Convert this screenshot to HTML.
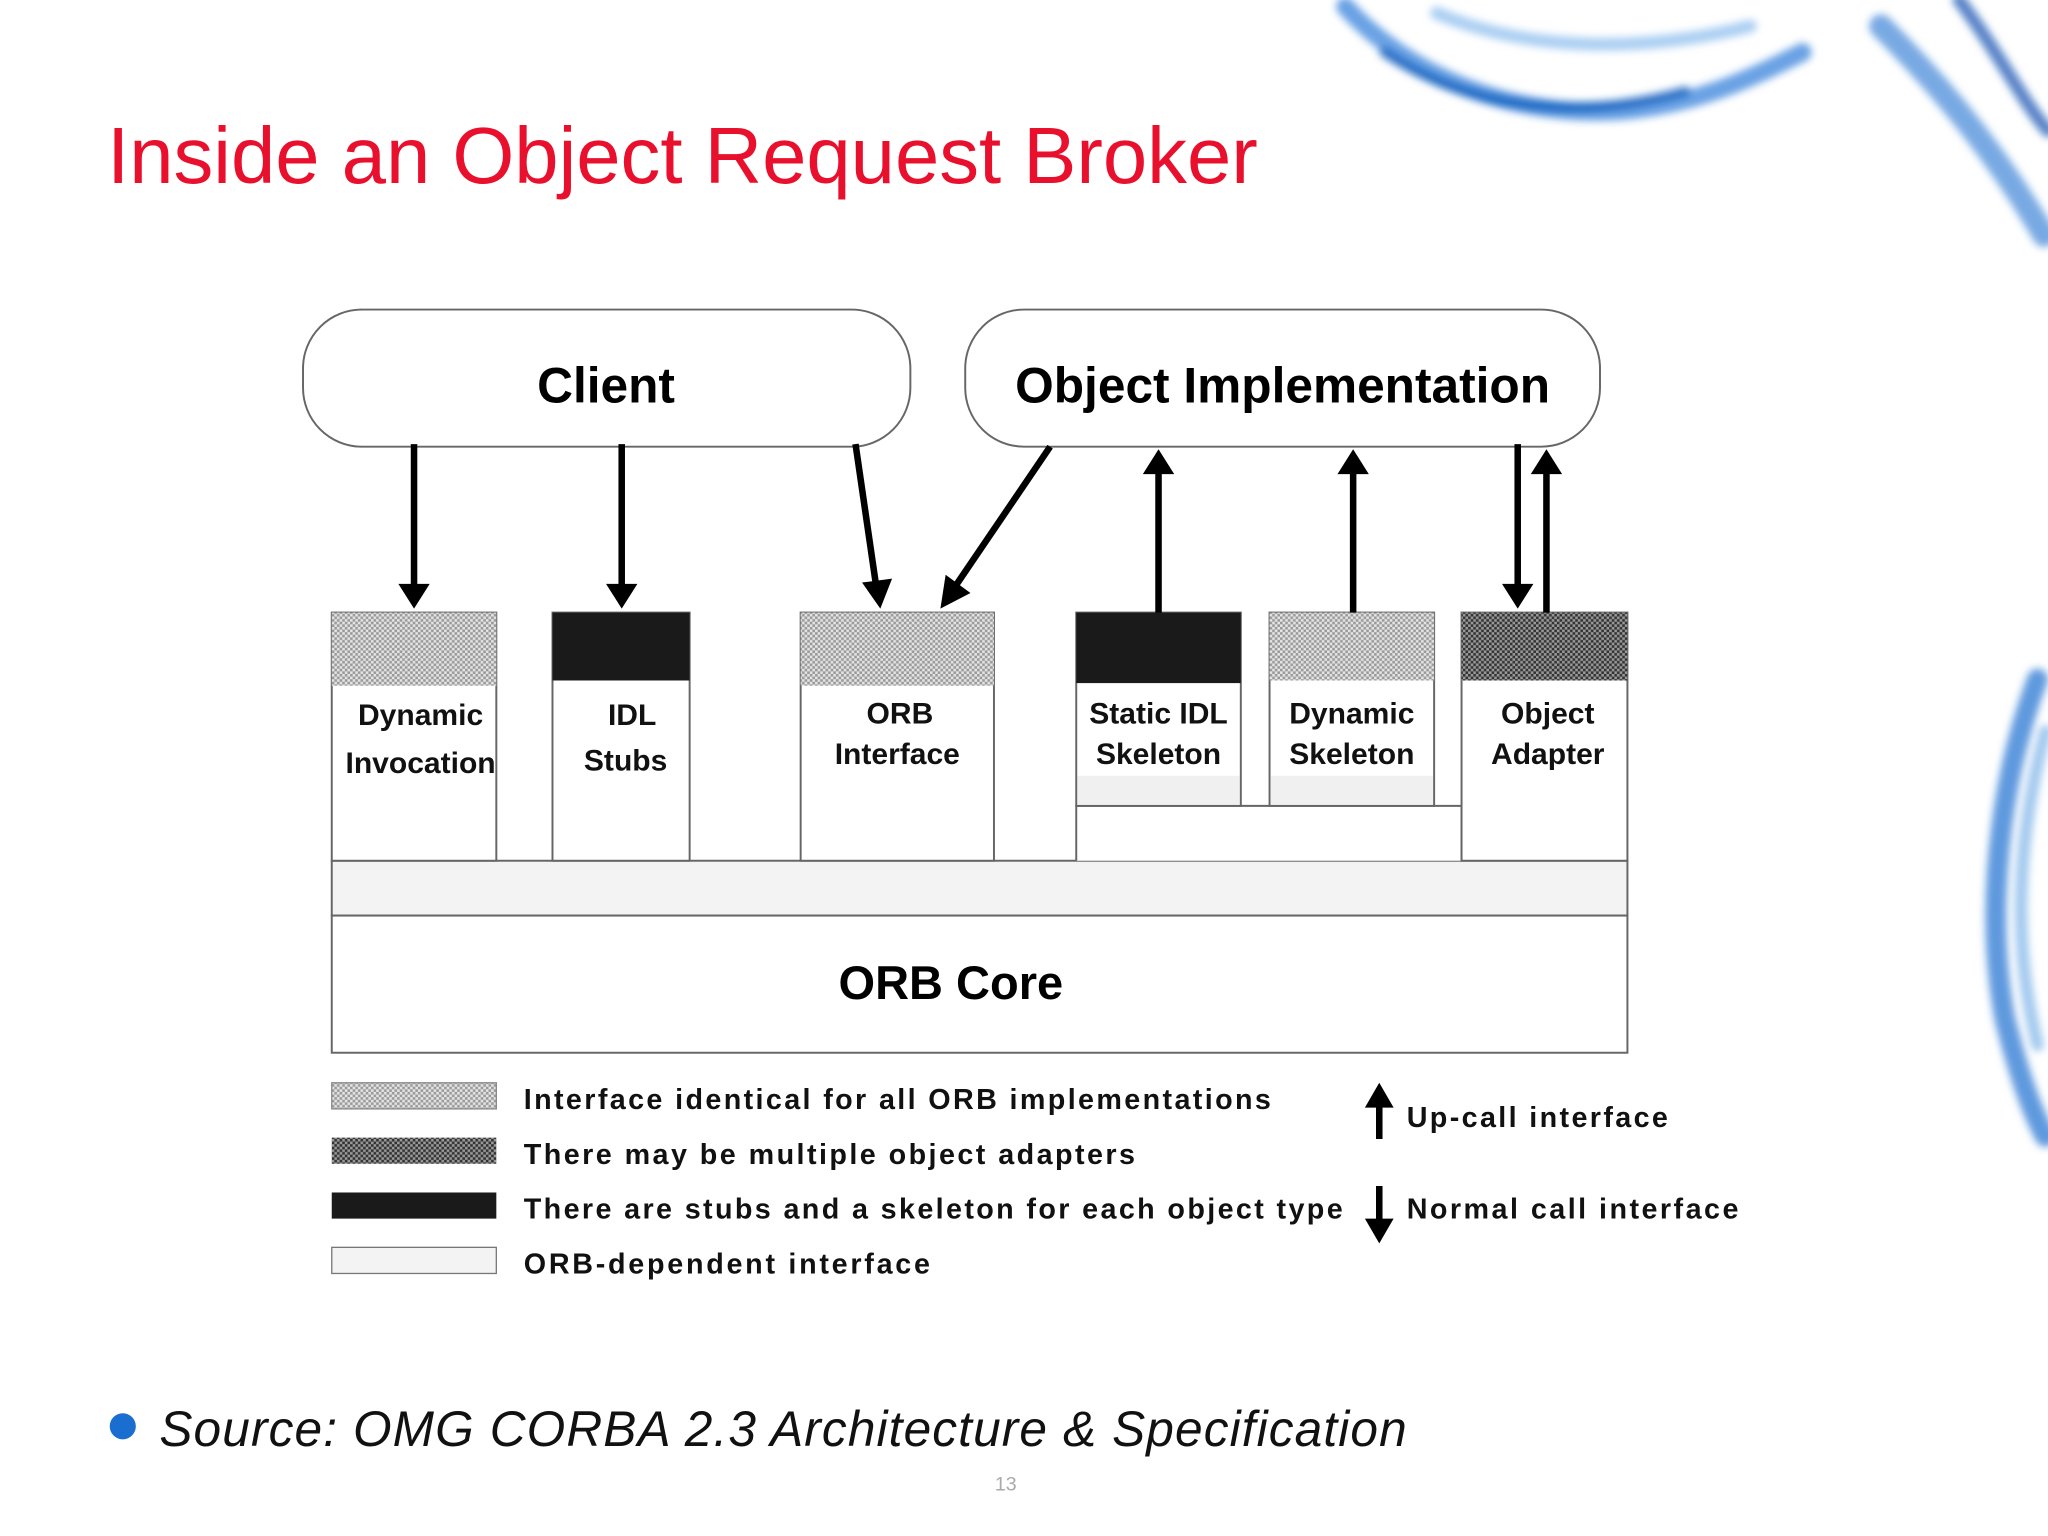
<!DOCTYPE html>
<html><head><meta charset="utf-8"><style>
html,body{margin:0;padding:0;background:#fff}
svg{display:block}
text{font-family:"Liberation Sans",sans-serif}
</style></head><body>
<svg width="2048" height="1536" viewBox="0 0 1568 1176" xmlns="http://www.w3.org/2000/svg">
<defs>
<pattern id="lt" width="4" height="4" patternUnits="userSpaceOnUse"><rect width="4" height="4" fill="#e4e4e4"/><rect width="2" height="2" fill="#9a9a9a"/><rect x="2" y="2" width="2" height="2" fill="#9a9a9a"/></pattern>
<pattern id="dk" width="4" height="4" patternUnits="userSpaceOnUse"><rect width="4" height="4" fill="#999"/><rect width="2" height="2" fill="#333"/><rect x="2" y="2" width="2" height="2" fill="#333"/></pattern>
<filter id="bl"><feGaussianBlur stdDeviation="3"/></filter>
</defs>
<rect width="1568" height="1176" fill="#fff"/>
<!-- blue smoke -->
<g filter="url(#bl)" fill="none" stroke-linecap="round">
<path d="M1030 5 C1080 60 1160 90 1240 85 C1300 80 1340 60 1380 40" stroke="#2a7ad8" stroke-width="14" opacity="0.7"/>
<path d="M1060 40 C1120 80 1200 95 1290 70" stroke="#0a55b8" stroke-width="8" opacity="0.7"/>
<path d="M1100 10 C1170 40 1260 40 1340 20" stroke="#5aa0e8" stroke-width="10" opacity="0.5"/>
<path d="M1440 20 C1490 70 1530 120 1565 180" stroke="#1f6fd0" stroke-width="18" opacity="0.6"/>
<path d="M1500 0 C1530 40 1550 80 1568 100" stroke="#0a4fb0" stroke-width="10" opacity="0.7"/>
<path d="M1560 520 C1530 600 1520 700 1535 780 C1545 820 1555 850 1566 870" stroke="#1a6ed0" stroke-width="16" opacity="0.7"/>
<path d="M1566 560 C1545 640 1540 720 1560 800" stroke="#4a95e0" stroke-width="10" opacity="0.5"/>
</g>
<text x="82" y="140" font-size="61" fill="#e8102c" textLength="881">Inside an Object Request Broker</text>
<!-- top ovals -->
<rect x="232" y="237" width="465" height="105" rx="45" fill="#fff" stroke="#666" stroke-width="1.5"/>
<text x="464" y="308" font-size="38" font-weight="bold" text-anchor="middle">Client</text>
<rect x="739" y="237" width="486" height="105" rx="45" fill="#fff" stroke="#666" stroke-width="1.5"/>
<text x="982" y="308" font-size="38" font-weight="bold" text-anchor="middle">Object Implementation</text>
<!-- core -->
<rect x="254" y="659" width="992" height="42" fill="#f3f3f3" stroke="#666" stroke-width="1.5"/>
<rect x="254" y="701" width="992" height="105" fill="#fff" stroke="#666" stroke-width="1.5"/>
<text x="728" y="765" font-size="36" font-weight="bold" text-anchor="middle">ORB Core</text>
<path d="M824 659 V617 H1119 V659" fill="#fff" stroke="#666" stroke-width="1.5"/>
<g stroke="#666" stroke-width="1.5" fill="#fff">
<rect x="254" y="469" width="126" height="190"/>
<rect x="423" y="469" width="105" height="190"/>
<rect x="613" y="469" width="148" height="190"/>
<rect x="824" y="469" width="126" height="148"/>
<rect x="972" y="469" width="126" height="148"/>
<rect x="1119" y="469" width="127" height="190"/>
</g>
<rect x="825" y="594" width="124" height="22" fill="#f0f0f0"/>
<rect x="973" y="594" width="124" height="22" fill="#f0f0f0"/>
<rect x="254" y="469" width="126" height="56" fill="url(#lt)"/>
<rect x="423" y="469" width="105" height="52" fill="#1a1a1a"/>
<rect x="613" y="469" width="148" height="56" fill="url(#lt)"/>
<rect x="824" y="469" width="126" height="54" fill="#1a1a1a"/>
<rect x="972" y="469" width="126" height="52" fill="url(#lt)"/>
<rect x="1119" y="469" width="127" height="52" fill="url(#dk)"/>
<g font-size="23" font-weight="bold" text-anchor="middle" fill="#111">
<text x="322" y="555">Dynamic</text><text x="322" y="592">Invocation</text>
<text x="484" y="555">IDL</text><text x="479" y="590">Stubs</text>
<text x="689" y="554">ORB</text><text x="687" y="585">Interface</text>
<text x="887" y="554">Static IDL</text><text x="887" y="585">Skeleton</text>
<text x="1035" y="554">Dynamic</text><text x="1035" y="585">Skeleton</text>
<text x="1185" y="554">Object</text><text x="1185" y="585">Adapter</text>
</g>
<g stroke="#000" stroke-width="5" fill="#000">
<line x1="317" y1="340" x2="317" y2="450"/><path d="M305 447 L329 447 L317 466Z" stroke="none"/>
<line x1="476" y1="340" x2="476" y2="450"/><path d="M464 447 L488 447 L476 466Z" stroke="none"/>
<line x1="655" y1="340" x2="671" y2="450"/><path d="M660 446 L683 443 L674 466Z" stroke="none"/>
<line x1="804" y1="342" x2="732" y2="448"/><path d="M724 440 L743 454 L720 466Z" stroke="none"/>
<line x1="887" y1="469" x2="887" y2="360"/><path d="M875 363 L899 363 L887 344Z" stroke="none"/>
<line x1="1036" y1="469" x2="1036" y2="360"/><path d="M1024 363 L1048 363 L1036 344Z" stroke="none"/>
<line x1="1162" y1="340" x2="1162" y2="450"/><path d="M1150 447 L1174 447 L1162 466Z" stroke="none"/>
<line x1="1184" y1="469" x2="1184" y2="360"/><path d="M1172 363 L1196 363 L1184 344Z" stroke="none"/>
</g>
<rect x="254" y="829" width="126" height="20" fill="url(#lt)" stroke="#888"/>
<rect x="254" y="871" width="126" height="20" fill="url(#dk)"/>
<rect x="254" y="913" width="126" height="20" fill="#1a1a1a"/>
<rect x="254" y="955" width="126" height="20" fill="#f3f3f3" stroke="#777"/>
<g font-size="22" font-weight="bold" fill="#111">
<text x="401" y="849" textLength="572">Interface identical for all ORB implementations</text>
<text x="401" y="891" textLength="468">There may be multiple object adapters</text>
<text x="401" y="933" textLength="627">There are stubs and a skeleton for each object type</text>
<text x="401" y="975" textLength="311">ORB-dependent interface</text>
<text x="1077" y="863" textLength="200">Up-call interface</text>
<text x="1077" y="933" textLength="254">Normal call interface</text>
</g>
<g stroke="#000" stroke-width="5" fill="#000">
<line x1="1056" y1="872" x2="1056" y2="845"/><path d="M1045 848 L1067 848 L1056 829Z" stroke="none"/>
<line x1="1056" y1="908" x2="1056" y2="936"/><path d="M1045 933 L1067 933 L1056 952Z" stroke="none"/>
</g>
<circle cx="94" cy="1092" r="10" fill="#1a6ed0"/>
<text x="122" y="1107" font-size="38" font-style="italic" fill="#111" textLength="955">Source:  OMG CORBA 2.3 Architecture &amp; Specification</text>
<text x="770" y="1141" font-size="15" fill="#aaa" text-anchor="middle">13</text>
</svg>
</body></html>
